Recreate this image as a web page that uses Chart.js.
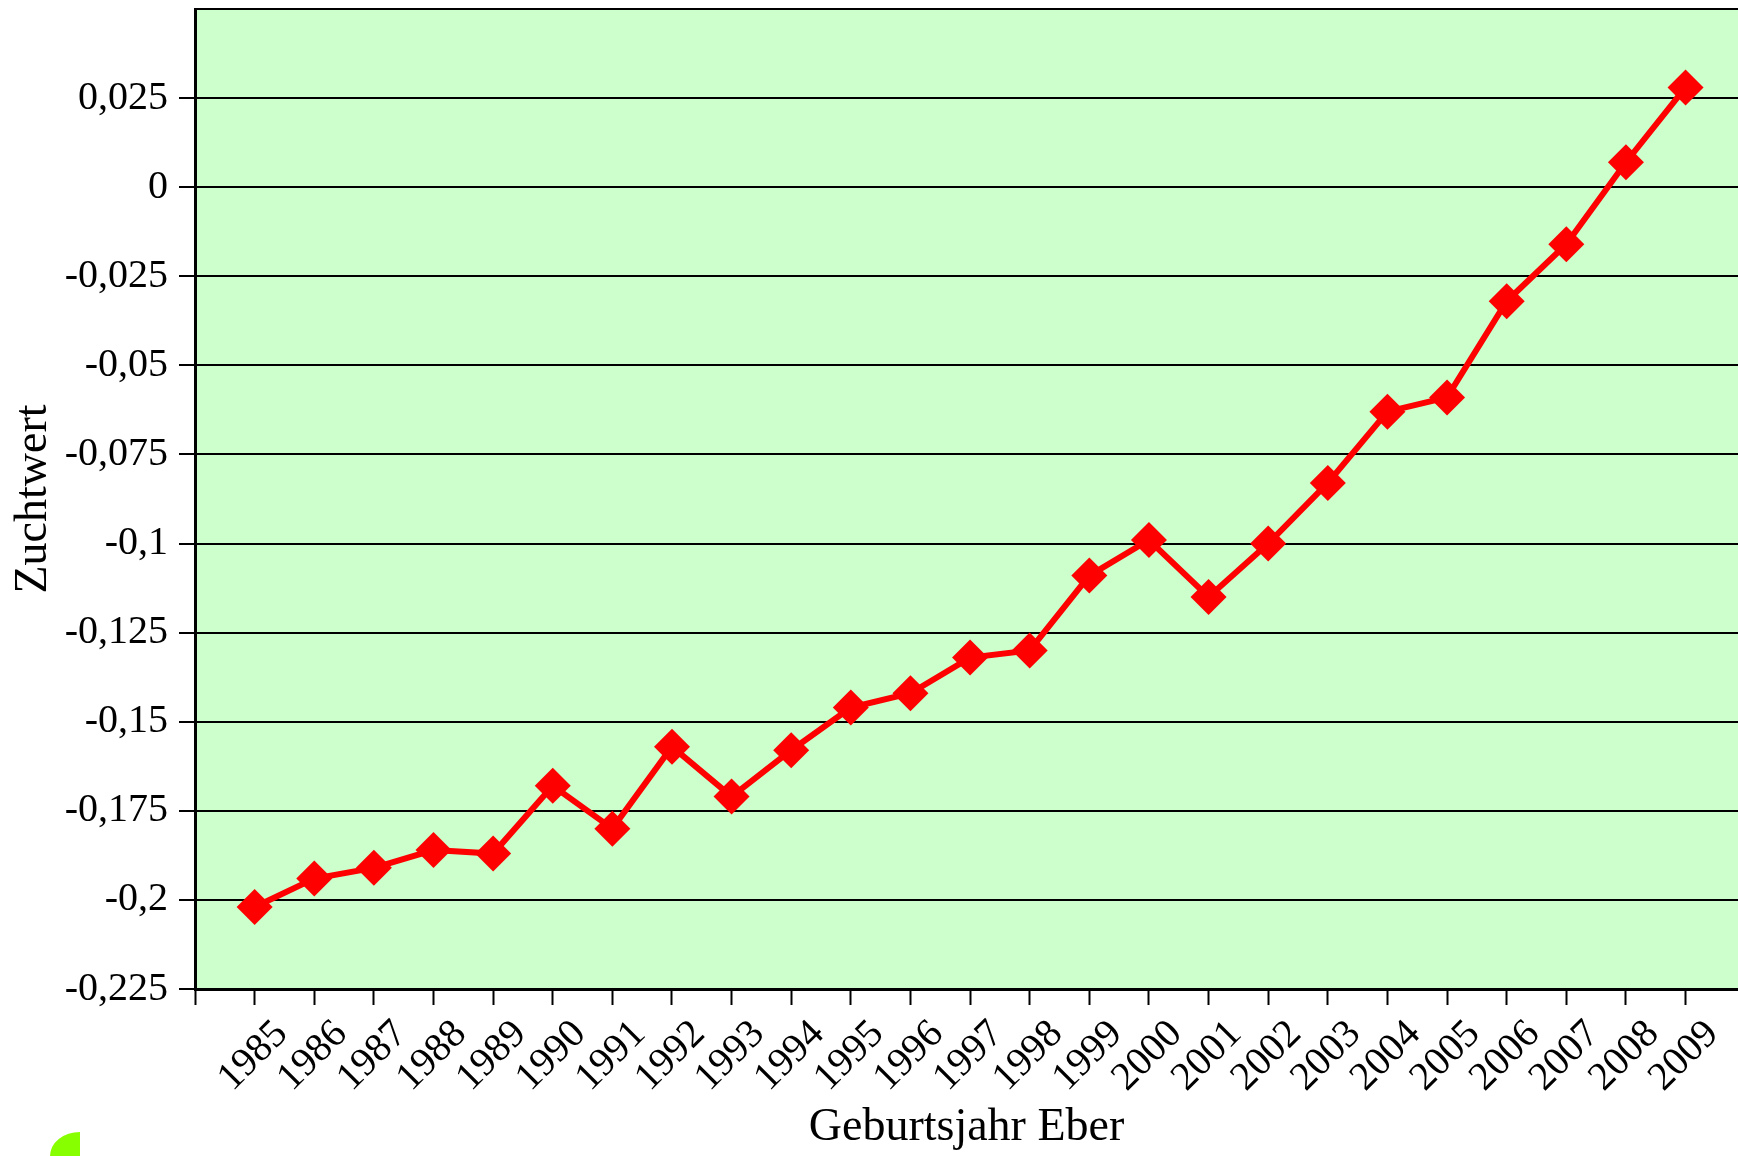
<!DOCTYPE html>
<html>
<head>
<meta charset="utf-8">
<script src="https://cdn.jsdelivr.net/npm/chart.js@4"></script>
<style>
  html, body { margin: 0; padding: 0; background: #fff; }
  #wrap { position: relative; width: 1738px; height: 1156px; overflow: hidden; }
  #logo { position: absolute; left: 50px; top: 1132px; width: 30px; height: 24px;
          background: #88ff00; border-top-left-radius: 100% 100%; }
</style>
</head>
<body>
<div id="wrap">
  <canvas id="zuchtwert" width="1738" height="1156"></canvas>
  <div id="logo"></div>
</div>
<script>
// Geburtsjahr Eber
const years = [1985, 1986, 1987, 1988, 1989, 1990, 1991, 1992, 1993, 1994, 1995, 1996, 1997,
               1998, 1999, 2000, 2001, 2002, 2003, 2004, 2005, 2006, 2007, 2008, 2009];
// Zuchtwert
const zuchtwert = [-0.202, -0.194, -0.191, -0.186, -0.187, -0.168, -0.180, -0.157, -0.171,
                   -0.158, -0.146, -0.142, -0.132, -0.130, -0.109, -0.099, -0.115, -0.100,
                   -0.083, -0.063, -0.059, -0.032, -0.016, 0.007, 0.028];
const yTicks = [-0.225, -0.2, -0.175, -0.15, -0.125, -0.1, -0.075, -0.05, -0.025, 0, 0.025];

Chart.defaults.font.family = "'Liberation Serif', 'Times New Roman', serif";
Chart.defaults.color = '#000';

const plotBackground = {
    id: 'plotBackground',
    beforeDraw(chart) {
        const a = chart.chartArea;
        const c = chart.ctx;
        c.save();
        c.fillStyle = '#ccffcc';
        c.fillRect(a.left, a.top, a.right - a.left, a.bottom - a.top);
        c.restore();
    }
};

function fmt(v) {
    return String(Math.round(v * 1000) / 1000).replace('.', ',');
}

const ctx = document.getElementById('zuchtwert').getContext('2d');
const chart = new Chart(ctx, {
    type: 'line',
    data: {
        datasets: [{
            label: 'Zuchtwert',
            data: years.map((y, i) => ({ x: y, y: zuchtwert[i] })),
            borderColor: '#ff0000',
            backgroundColor: '#ff0000',
            borderWidth: 6,
            pointStyle: 'rectRot',
            pointRadius: 18,
            pointHoverRadius: 18,
            pointBorderWidth: 0,
            pointBackgroundColor: '#ff0000',
            tension: 0
        }]
    },
    options: {
        responsive: false,
        animation: false,
        layout: { autoPadding: false, padding: { top: 9, right: 0, bottom: 0, left: 0 } },
        plugins: {
            legend: { display: false },
            tooltip: { enabled: false }
        },
        scales: {
            x: {
                type: 'linear',
                min: 1984,
                max: 2009.88,
                border: { color: '#000', width: 3 },
                grid: {
                    drawOnChartArea: false,
                    drawTicks: true,
                    tickLength: 16,
                    tickWidth: 2,
                    tickColor: '#000'
                },
                ticks: {
                    stepSize: 1,
                    includeBounds: false,
                    autoSkip: false,
                    maxTicksLimit: 40,
                    minRotation: 45,
                    maxRotation: 45,
                    padding: 6,
                    labelOffset: 27,
                    font: { size: 40 },
                    callback: (v) => (v >= years[0] && v <= years[years.length - 1]) ? String(v) : ''
                },
                title: {
                    display: true,
                    text: 'Geburtsjahr Eber',
                    font: { size: 46 },
                    padding: { top: 0, bottom: 0 }
                },
                afterFit(scale) {
                    scale.height = 167;
                    scale.paddingLeft = 0;
                    scale.paddingRight = 0;
                }
            },
            y: {
                min: -0.225,
                max: 0.05,
                border: { color: '#000', width: 3 },
                grid: {
                    color: '#000',
                    lineWidth: 2,
                    tickLength: 16,
                    tickWidth: 2,
                    tickColor: (c) => (c.tick && Math.abs(c.tick.value - 0.05) < 1e-9) ? 'rgba(0,0,0,0)' : '#000'
                },
                ticks: {
                    stepSize: 0.025,
                    maxTicksLimit: 30,
                    padding: 11,
                    font: { size: 40 },
                    callback: (v) => yTicks.some(t => Math.abs(t - v) < 1e-9) ? fmt(v) : ''
                },
                title: {
                    display: true,
                    text: 'Zuchtwert',
                    font: { size: 46 },
                    padding: { top: 6, bottom: 0 }
                },
                afterFit(scale) {
                    scale.width = 195;
                    scale.paddingTop = 0;
                    scale.paddingBottom = 0;
                }
            }
        }
    },
    plugins: [plotBackground]
});
</script>
</body>
</html>
